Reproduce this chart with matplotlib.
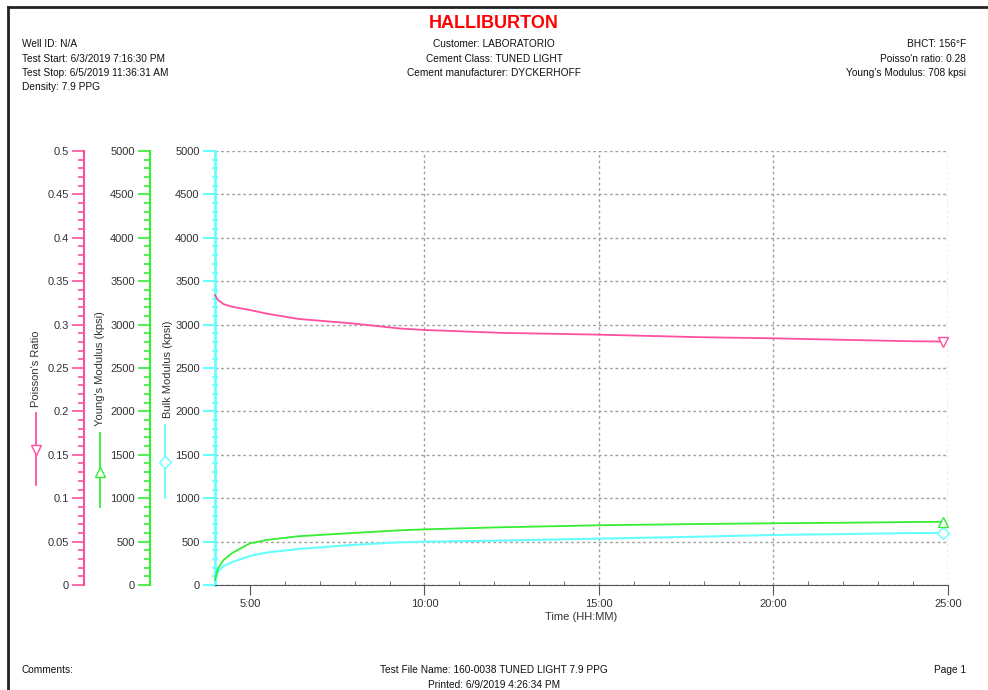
import matplotlib
matplotlib.use('Agg')
import matplotlib.pyplot as plt
from matplotlib.lines import Line2D
from matplotlib.ticker import MultipleLocator, FuncFormatter

plt.rcParams['font.family'] = ['Liberation Sans', 'DejaVu Sans']

# Test data (elapsed time in hours)
time_h = [4.0, 4.05, 4.1, 4.25, 4.5, 5.0, 5.5, 6.4, 7.9, 9.3, 10.0, 12.2, 15.0,
          17.9, 20.0, 22.2, 24.0, 24.86]
poisson = [0.334, 0.3305, 0.328, 0.3235, 0.3205, 0.3168, 0.3125, 0.3065, 0.3015, 0.2955,
           0.2938, 0.2905, 0.2884, 0.2855, 0.2842, 0.2823, 0.2808, 0.2805]
young = [60, 140, 200, 290, 370, 480, 520, 562, 598, 630, 641, 665, 688, 703, 711,
         718, 726, 728]
bulk = [50, 115, 160, 220, 265, 335, 375, 415, 461, 492, 499, 512, 534, 557, 576,
        588, 599, 600]

time_ticks = [5, 10, 15, 20, 25]
grid_hours = [10, 15, 20, 25]

header_left = ['Well ID: N/A', 'Test Start: 6/3/2019 7:16:30 PM',
               'Test Stop: 6/5/2019 11:36:31 AM', 'Density: 7.9 PPG']
header_mid = ['Customer: LABORATORIO', 'Cement Class: TUNED LIGHT',
              'Cement manufacturer: DYCKERHOFF']
header_right = ['BHCT: 156°F', "Poisso'n ratio: 0.28", "Young's Modulus: 708 kpsi"]

PINK = '#FF4FA0'
GREEN = '#33EE33'
CYAN = '#66FFFF'
TXT = '#333333'
AXC = '#555555'
GRID = '#A0A0A0'
DASH = (0, (2, 2))

W, H = 988, 690


def fx(x):
    return x / W


def fy(y):
    return 1 - y / H


fig = plt.figure(figsize=(W / 100, H / 100), dpi=100)

# page frame
fig.add_artist(Line2D([fx(8), fx(8)], [0, fy(7)], color='#222222', lw=2))
fig.add_artist(Line2D([fx(8), 1], [fy(7), fy(7)], color='#222222', lw=2))

# header / footer text
fig.text(fx(494), fy(23), 'HALLIBURTON', color='#FF0000', fontsize=13,
         fontweight='bold', ha='center', va='center')
for i, s in enumerate(header_left):
    fig.text(fx(22), fy(44 + 14.5 * i), s, fontsize=7.3, color='#111111', va='center')
for i, s in enumerate(header_mid):
    fig.text(fx(494), fy(44 + 14.5 * i), s, fontsize=7.3, color='#111111',
             ha='center', va='center')
for i, s in enumerate(header_right):
    fig.text(fx(966), fy(44 + 14.5 * i), s, fontsize=7.3, color='#111111',
             ha='right', va='center')
fig.text(fx(22), fy(670), 'Comments:', fontsize=7.3, color='#111111', va='center')
fig.text(fx(494), fy(670), 'Test File Name: 160-0038 TUNED LIGHT 7.9 PPG',
         fontsize=7.3, color='#111111', ha='center', va='center')
fig.text(fx(494), fy(685), 'Printed: 6/9/2019 4:26:34 PM', fontsize=7.3,
         color='#111111', ha='center', va='center')
fig.text(fx(966), fy(670), 'Page 1', fontsize=7.3, color='#111111',
         ha='right', va='center')

# main axes: bulk modulus
x0, x1, y0, y1 = 215, 948, 151, 585
ax = fig.add_axes([fx(x0), fy(y1), (x1 - x0) / W, (y1 - y0) / H])
ax.set_xlim(4, 25)
ax.set_ylim(0, 5000)
for s in ['top', 'right']:
    ax.spines[s].set_visible(False)
ax.spines['bottom'].set_color(AXC)
ax.spines['left'].set_color(CYAN)
ax.spines['left'].set_linewidth(2)

ax.xaxis.set_major_locator(MultipleLocator(5))
ax.xaxis.set_minor_locator(MultipleLocator(1))
ax.xaxis.set_major_formatter(FuncFormatter(lambda v, p: f'{int(v)}:00'))
ax.tick_params(axis='x', which='major', direction='out', length=7, color=AXC,
               labelsize=8, labelcolor=TXT, pad=3)
ax.tick_params(axis='x', which='minor', direction='in', length=3, color=AXC)
ax.set_xlabel('Time (HH:MM)', fontsize=8, color=TXT, labelpad=2)

ax.yaxis.set_major_locator(MultipleLocator(500))
ax.yaxis.set_minor_locator(MultipleLocator(100))
ax.tick_params(axis='y', which='major', direction='out', length=9, width=1.5,
               color=CYAN, labelsize=8, labelcolor=TXT, pad=2)
ax.tick_params(axis='y', which='minor', direction='inout', length=4, width=1.2,
               color=CYAN)

ax.grid(axis='y', which='major', color=GRID, linestyle=DASH, lw=1)
for h in grid_hours:
    ax.axvline(h, color=GRID, linestyle=DASH, lw=1, zorder=0)

ax.plot(time_h, bulk, color=CYAN, lw=1.5, marker='D', markevery=[-1],
        markersize=6, markerfacecolor='white', markeredgecolor=CYAN, clip_on=False)


def side_axis(pos_px, color, ylim, major, minor, fmt):
    a = ax.twinx()
    a.set_ylim(*ylim)
    for s in ['top', 'right', 'bottom']:
        a.spines[s].set_visible(False)
    a.spines['left'].set_visible(True)
    a.spines['left'].set_position(('axes', (pos_px - x0) / (x1 - x0)))
    a.spines['left'].set_color(color)
    a.spines['left'].set_linewidth(1.5)
    a.yaxis.set_label_position('left')
    a.yaxis.tick_left()
    a.yaxis.set_major_locator(MultipleLocator(major))
    a.yaxis.set_minor_locator(MultipleLocator(minor))
    a.yaxis.set_major_formatter(FuncFormatter(fmt))
    a.tick_params(axis='y', which='major', direction='out', length=9, width=1.2,
                  color=color, labelsize=8, labelcolor=TXT, pad=2)
    a.tick_params(axis='y', which='minor', direction='out', length=4, width=1.2,
                  color=color)
    return a


ax_p = side_axis(84, PINK, (0, 0.5), 0.05, 0.01,
                 lambda v, p: '0' if abs(v) < 1e-9 else f'{v:.2f}'.rstrip('0'))
ax_y = side_axis(150, GREEN, (0, 5000), 500, 100, lambda v, p: f'{int(round(v))}')

ax_p.plot(time_h, poisson, color=PINK, lw=1.3, marker='v', markevery=[-1],
          markersize=7, markerfacecolor='white', markeredgecolor=PINK, clip_on=False)
ax_y.plot(time_h, young, color=GREEN, lw=1.3, marker='^', markevery=[-1],
          markersize=7, markerfacecolor='white', markeredgecolor=GREEN, clip_on=False)

# axis titles with series keys
keys = [
    ("Poisson's Ratio", PINK, 'v', 36, 36, 369, 413, 485, 450),
    ("Young's Modulus (kpsi)", GREEN, '^', 100, 100, 369, 433, 507, 472),
    ('Bulk Modulus (kpsi)', CYAN, 'D', 168, 165, 369, 425, 498, 462),
]
for label, col, mk, tx, lx, ty, la, lb, my in keys:
    fig.text(fx(tx), fy(ty), label, rotation=90, fontsize=8, color=TXT,
             ha='center', va='center')
    fig.add_artist(Line2D([fx(lx), fx(lx)], [fy(la), fy(lb)], color=col, lw=1.3))
    fig.add_artist(Line2D([fx(lx)], [fy(my)], marker=mk, markersize=7 if mk != 'D' else 6,
                          markerfacecolor='white', markeredgecolor=col, lw=0))

fig.savefig('out.png', dpi=100, facecolor='white')
